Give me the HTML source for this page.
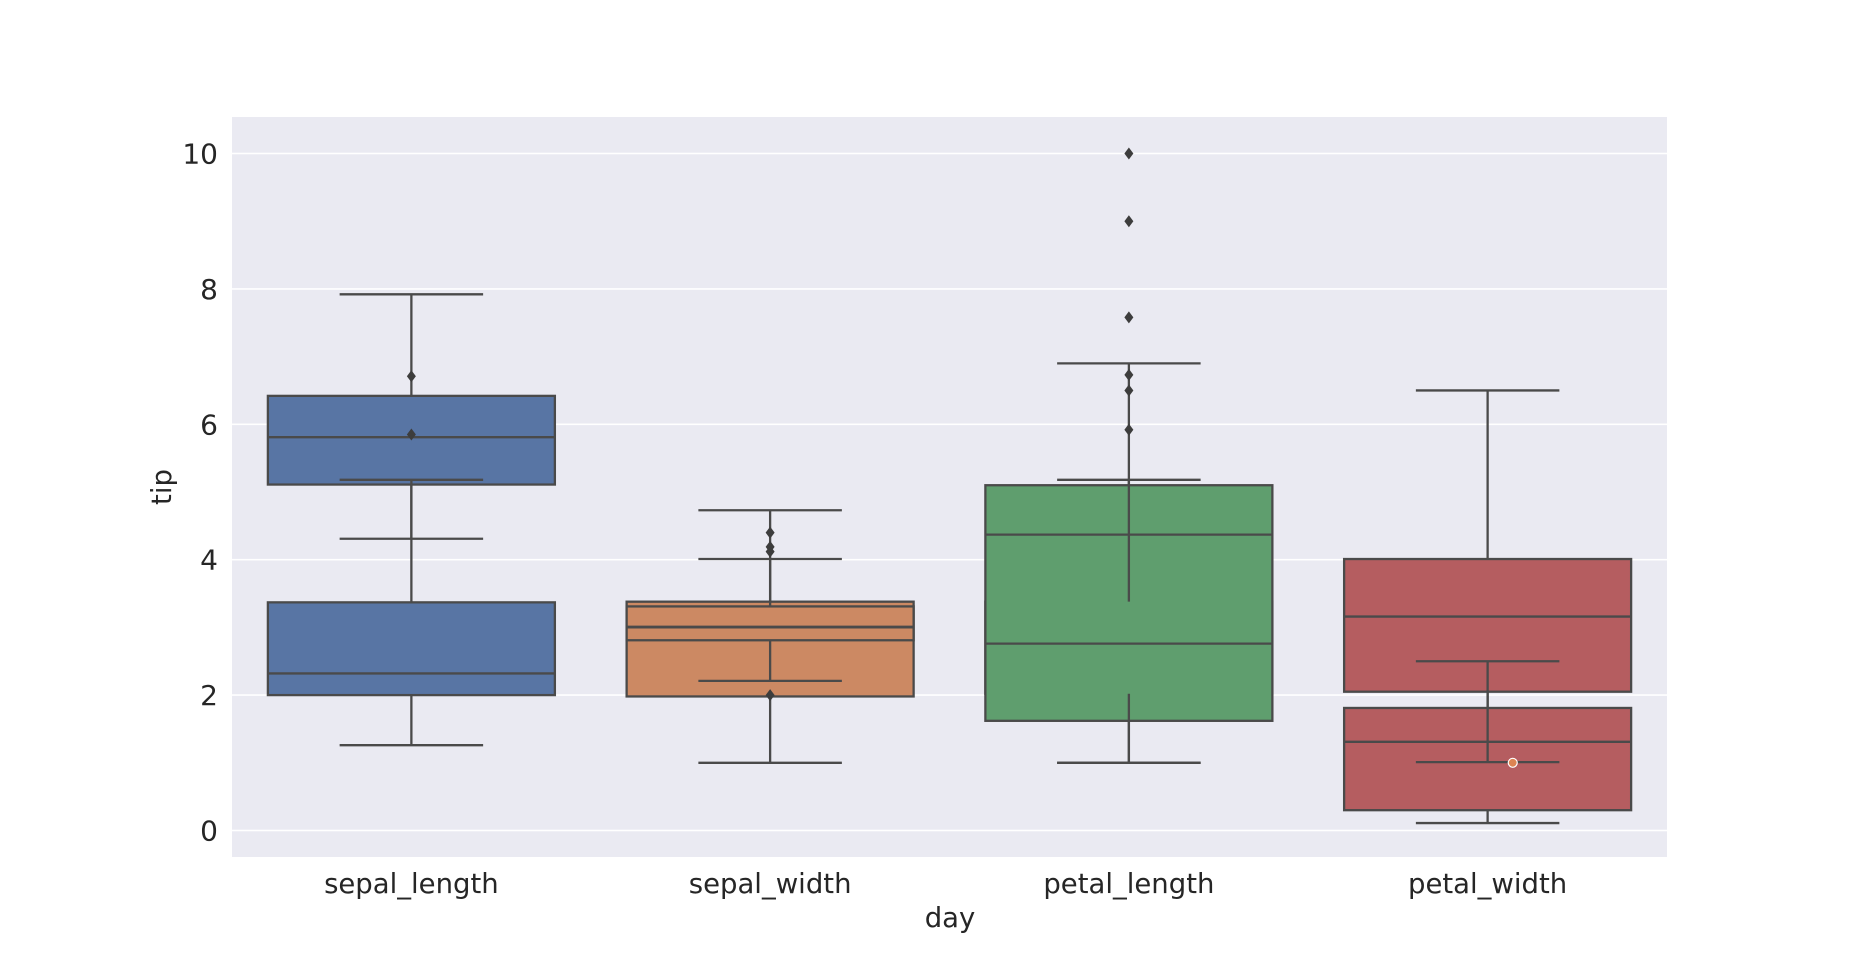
<!DOCTYPE html>
<html><head><meta charset="utf-8"><style>
html,body{margin:0;padding:0;background:#fff;}
svg{display:block;font-family:"DejaVu Sans","Liberation Sans",sans-serif;}
</style></head><body>
<svg id="chart" width="1853" height="963" viewBox="0 0 1853 963">
<rect x="232" y="117" width="1435" height="740" fill="#eaeaf2"/>
<g id="grid"></g>
<g id="yticks"></g>
<g id="xticks"></g>
<g id="patches"></g>
<g id="lines"></g>
<g id="fliers"></g>
<text x="950" y="927" font-size="27.5" fill="#262626" text-anchor="middle">day</text>
<text transform="translate(171,487) rotate(-90)" font-size="27.5" fill="#262626" text-anchor="middle">tip</text>
</svg>
<script>
const categories = ["sepal_length","sepal_width","petal_length","petal_width"];
const colors = ["#5875a4","#cc8963","#5f9e6e","#b55d60"];
const yTicks = [0,2,4,6,8,10];
// second dataset (tips by day), drawn first
const tipsQ1 = [2.0, 1.98, 2.02, 2.05];
const tipsMed = [2.32, 3.0, 2.76, 3.16];
const tipsQ3 = [3.37, 3.38, 3.38, 4.01];
const tipsLo = [1.26, 1.0, 1.0, 1.01];
const tipsHi = [5.18, 4.73, 5.18, 6.5];
const tipsFliers = [[6.71, 5.85], [], [10.0, 9.0, 7.58, 6.73, 6.5, 5.92], []];
// iris dataset, drawn on top
const irisQ1 = [5.11, 2.81, 1.62, 0.3];
const irisMed = [5.81, 3.01, 4.37, 1.31];
const irisQ3 = [6.42, 3.31, 5.1, 1.81];
const irisLo = [4.31, 2.21, 1.0, 0.11];
const irisHi = [7.92, 4.01, 6.9, 2.5];
const irisFliers = [[], [4.4, 4.19, 4.12, 2.0], [], []];
const extraPoint = {cat: 3, offset: 0.07, value: 1.0};

const NS = "http://www.w3.org/2000/svg";
const X0 = 232, X1 = 1667;
const band = (X1 - X0) / categories.length;
function xc(i){ return X0 + band * (i + 0.5); }
function y(v){ return 830.5 - 67.7 * v; }
function mk(tag, attrs, parent){
  const e = document.createElementNS(NS, tag);
  for (const k in attrs) e.setAttribute(k, attrs[k]);
  parent.appendChild(e);
  return e;
}
const grid = document.getElementById('grid');
const yt = document.getElementById('yticks');
yTicks.forEach(t => {
  const l = mk('line', {x1: X0, x2: X1, y1: y(t), y2: y(t), stroke: '#fff', 'stroke-width': 1.6}, grid);
  
  
  const tx = mk('text', {x: 218, y: y(t) + 10, 'font-size': 28, fill: '#262626', 'text-anchor': 'end'}, yt);
  tx.textContent = t;
  
  
});
const xt = document.getElementById('xticks');
categories.forEach((c, i) => {
  const tx = mk('text', {x: xc(i), y: 893, 'font-size': 27.5, fill: '#262626', 'text-anchor': 'middle'}, xt);
  tx.textContent = c;
  
  
});
const P = document.getElementById('patches');
const L = document.getElementById('lines');
const F = document.getElementById('fliers');
const LC = '#4a4a4a', LW = 2.3;
const boxW = band * 0.8, capW = band * 0.4;
function drawSet(name, q1, med, q3, lo, hi, fl){
  categories.forEach((c, i) => {
    const cx = xc(i);
    const r = mk('rect', {x: cx - boxW/2, y: y(q3[i]), width: boxW, height: y(q1[i]) - y(q3[i]), fill: colors[i], stroke: LC, 'stroke-width': LW}, P);
    
    
  });
}
function drawLines(name, q1, med, q3, lo, hi, fl){
  categories.forEach((c, i) => {
    const cx = xc(i);
    const segs = [
      [cx, y(q3[i]), cx, y(hi[i]), 'whisker-upper'],
      [cx, y(q1[i]), cx, y(lo[i]), 'whisker-lower'],
      [cx - capW/2, y(hi[i]), cx + capW/2, y(hi[i]), 'cap-upper'],
      [cx - capW/2, y(lo[i]), cx + capW/2, y(lo[i]), 'cap-lower'],
      [cx - boxW/2, y(med[i]), cx + boxW/2, y(med[i]), 'median']
    ];
    segs.forEach(s => {
      const l = mk('line', {x1: s[0], y1: s[1], x2: s[2], y2: s[3], stroke: LC, 'stroke-width': LW}, L);
      
      
    });
    fl[i].forEach(v => {
      const yy = y(v);
      const d = mk('polygon', {points: `${cx},${yy-6} ${cx+4.5},${yy} ${cx},${yy+6} ${cx-4.5},${yy}`, fill: '#3d3d3d'}, F);
      
      
    });
  });
}
drawSet('tips', tipsQ1, tipsMed, tipsQ3, tipsLo, tipsHi, tipsFliers);
drawSet('iris', irisQ1, irisMed, irisQ3, irisLo, irisHi, irisFliers);
drawLines('tips', tipsQ1, tipsMed, tipsQ3, tipsLo, tipsHi, tipsFliers);
drawLines('iris', irisQ1, irisMed, irisQ3, irisLo, irisHi, irisFliers);
const ep = mk('circle', {cx: xc(extraPoint.cat) + band * extraPoint.offset, cy: y(extraPoint.value), r: 4.5, fill: '#dd8452', stroke: '#fff', 'stroke-width': 1.2}, F);


</script>
</body></html>
